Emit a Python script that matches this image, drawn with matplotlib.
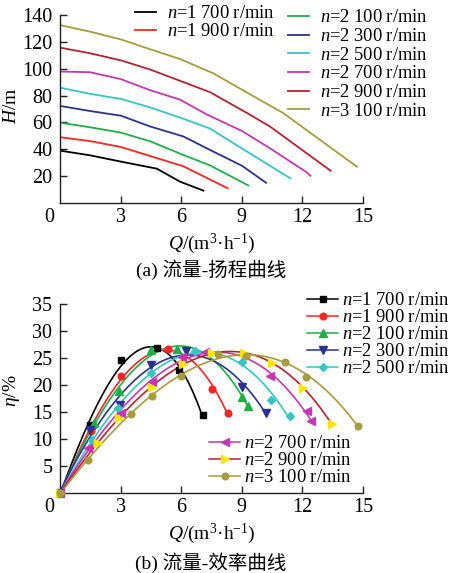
import numpy as np
import matplotlib
matplotlib.use('Agg')
import matplotlib.pyplot as plt

plt.rcParams['font.family'] = ['Liberation Serif', 'Noto Sans CJK SC']
plt.rcParams['mathtext.fontset'] = 'custom'
plt.rcParams['mathtext.rm'] = 'Liberation Serif'
plt.rcParams['mathtext.it'] = 'Liberation Serif:italic'
plt.rcParams['font.size'] = 13

# ---------------- data ----------------
speeds = ['1 700', '1 900', '2 100', '2 300', '2 500', '2 700', '2 900', '3 100']

# head curves (flow Q in m3/h, head H in m)
q_h_1700 = [0, 1.49, 3.02, 4.79, 5.94, 7.10]
h_1700 = [39.0, 35.5, 30.8, 25.6, 15.9, 9.2]
q_h_1900 = [0, 1.49, 3.02, 4.46, 6.10, 8.30]
h_1900 = [49.0, 46.1, 41.7, 35.0, 27.4, 11.0]
q_h_2100 = [0, 1.49, 3.02, 4.46, 6.10, 7.43, 9.32]
h_2100 = [59.8, 56.4, 52.4, 46.0, 35.8, 28.0, 13.1]
q_h_2300 = [0, 1.49, 3.02, 4.46, 6.10, 7.43, 9.00, 10.20]
h_2300 = [72.3, 68.5, 65.0, 57.0, 49.6, 39.5, 27.8, 15.1]
q_h_2500 = [0, 1.49, 3.02, 4.46, 6.10, 7.43, 9.00, 11.40]
h_2500 = [85.9, 81.3, 77.5, 71.2, 62.8, 55.4, 40.7, 18.4]
q_h_2700 = [0, 1.49, 3.02, 4.46, 5.94, 7.26, 9.00, 10.40, 12.20, 12.40]
h_2700 = [97.9, 97.4, 92.2, 84.0, 77.0, 66.0, 53.7, 40.7, 23.0, 20.3]
q_h_2900 = [0, 1.49, 3.02, 4.46, 5.94, 7.43, 9.32, 10.40, 13.40]
h_2900 = [115.7, 111.5, 106.2, 99.4, 91.0, 82.5, 66.5, 56.9, 24.0]
q_h_3100 = [0, 1.49, 3.02, 4.46, 5.94, 7.60, 9.32, 11.05, 14.70]
h_3100 = [132.5, 127.6, 121.8, 114.5, 107.2, 96.5, 81.7, 67.0, 27.0]

# efficiency points (flow Q in m3/h, efficiency in %)
q_e_1700 = [0, 1.49, 3.02, 4.82, 5.91, 7.06]
e_1700 = [0, 12.6, 24.6, 26.8, 22.8, 14.4]
q_e_1900 = [0, 1.53, 3.02, 5.33, 7.52, 8.33]
e_1900 = [0, 11.4, 21.6, 26.7, 19.3, 14.8]
q_e_2100 = [0, 1.70, 2.92, 4.50, 5.78, 9.02, 9.32]
e_2100 = [0, 12.9, 18.9, 26.5, 26.7, 17.7, 16.1]
q_e_2300 = [0, 1.49, 2.97, 4.50, 6.24, 9.00, 10.22]
e_2300 = [0, 11.7, 16.3, 23.7, 26.3, 19.7, 14.9]
q_e_2500 = [0, 1.60, 2.89, 4.50, 6.70, 9.02, 10.46, 11.39]
e_2500 = [0, 9.9, 15.8, 22.2, 26.3, 24.2, 17.2, 14.3]
q_e_2700 = [0, 1.40, 3.02, 4.54, 6.02, 7.18, 10.38, 12.22, 12.42]
e_2700 = [0, 8.3, 14.9, 20.6, 25.1, 26.2, 21.7, 15.1, 13.3]
q_e_2900 = [0, 1.87, 2.92, 4.54, 6.10, 7.51, 9.10, 10.50, 12.05, 13.45]
e_2900 = [0, 9.2, 13.9, 19.7, 23.8, 26.0, 25.9, 24.0, 19.5, 12.8]
q_e_3100 = [0, 1.40, 3.51, 4.54, 5.99, 7.84, 9.22, 11.14, 12.20, 14.75]
e_3100 = [0, 6.2, 14.6, 18.0, 21.7, 25.7, 25.4, 24.3, 21.4, 12.5]

head_q = [q_h_1700, q_h_1900, q_h_2100, q_h_2300, q_h_2500, q_h_2700, q_h_2900, q_h_3100]
head_h = [h_1700, h_1900, h_2100, h_2300, h_2500, h_2700, h_2900, h_3100]
eff_q = [q_e_1700, q_e_1900, q_e_2100, q_e_2300, q_e_2500, q_e_2700, q_e_2900, q_e_3100]
eff_e = [e_1700, e_1900, e_2100, e_2300, e_2500, e_2700, e_2900, e_3100]

# ---------------- style ----------------
line_colors = ['#000000', '#ff2424', '#1fae48', '#2c3192', '#38c4c4', '#c437b1', '#b4232f', '#a69c3d']
marker_colors = ['#000000', '#ff2424', '#1fae48', '#2c3192', '#38c4c4', '#c437b1', '#ffe600', '#a69c3d']
markers = ['s', 'o', '^', 'v', 'D', '<', '>', 'o']
msizes = [4.3, 4.8, 5.2, 5.2, 4.0, 5.2, 5.2, 4.8]

W, H = 454, 573
fig = plt.figure(figsize=(W / 100, H / 100), dpi=100)

TICK_FS = 14.5
LABEL_FS = 14
LEG_FS = 13.3


def px_rect(l, t, r, b):
    return [l / W, 1 - b / H, (r - l) / W, (b - t) / H]


def style_axes(ax, ymax, ystep, xlab_y):
    ax.spines['top'].set_visible(False)
    ax.spines['right'].set_visible(False)
    for s in ('left', 'bottom'):
        ax.spines[s].set_linewidth(1.0)
        ax.spines[s].set_color('#222222')
    ax.set_xlim(0, 15)
    ax.set_ylim(0, ymax)
    ax.set_xticks([3, 6, 9, 12, 15])
    ax.set_yticks(np.arange(ystep, ymax + 0.01, ystep))
    ax.tick_params(axis='both', direction='in', length=5, width=1.0, color='#222222',
                   labelsize=TICK_FS)
    ax.tick_params(axis='x', pad=3.5)
    ax.tick_params(axis='y', pad=5.5)
    ax.annotate('0', xy=(0, 0), xycoords='data', xytext=(-4, -3.5), textcoords='offset points',
                ha='right', va='top', fontsize=TICK_FS)
    ax.set_xlabel(r'$Q$/(m$^{3}$·h$^{-1}$)', fontsize=LABEL_FS)
    ax.xaxis.set_label_coords(0.5, xlab_y)


# ---------------- (a) head ----------------
ax1 = fig.add_axes(px_rect(60, 15, 363, 203))
style_axes(ax1, 140, 20, (203 - 232) / 188)
lines_a = []
for i in range(8):
    ln, = ax1.plot(head_q[i], head_h[i], color=line_colors[i], lw=1.3,
                   label='$n$=' + speeds[i] + ' r/min')
    lines_a.append(ln)
ax1.set_ylabel('$H$/m', fontsize=LABEL_FS)
ax1.yaxis.set_label_coords(-0.132, 0.52)

leg1 = ax1.legend(handles=lines_a[:2], loc='upper left', bbox_to_anchor=(135 / W, 1 - 5 / H),
                  bbox_transform=fig.transFigure, frameon=False, borderpad=0, borderaxespad=0,
                  handlelength=1.15, handletextpad=0.6, labelspacing=0.08, fontsize=LEG_FS)
ax1.add_artist(leg1)
ax1.legend(handles=lines_a[2:], loc='upper left', bbox_to_anchor=(288 / W, 1 - 9.5 / H),
           bbox_transform=fig.transFigure, frameon=False, borderpad=0, borderaxespad=0,
           handlelength=1.15, handletextpad=0.6, labelspacing=0.09, fontsize=LEG_FS)
fig.text(211 / W, 1 - 270 / H, '(a) 流量-扬程曲线', ha='center', va='center', fontsize=LABEL_FS)

# ---------------- (b) efficiency ----------------
ax2 = fig.add_axes(px_rect(60, 304, 363, 493))
style_axes(ax2, 35, 5, (493 - 522) / 189)
handles_b = []
for i in range(8):
    q = np.asarray(eff_q[i], dtype=float)
    e = np.asarray(eff_e[i], dtype=float)
    coef = np.polyfit(q, e, 3)
    qq = np.linspace(0, q.max(), 200)
    ax2.plot(qq, np.polyval(coef, qq), color=line_colors[i], lw=1.2)
    ax2.plot(q, e, linestyle='none', marker=markers[i], ms=msizes[i],
             mfc=marker_colors[i], mec=marker_colors[i], clip_on=False, zorder=3)
    h, = ax2.plot([], [], color=line_colors[i], lw=1.1, marker=markers[i], ms=msizes[i],
                  mfc=marker_colors[i], mec=marker_colors[i], label='$n$=' + speeds[i] + ' r/min')
    handles_b.append(h)
ax2.set_ylabel('$η$/%', fontsize=LABEL_FS)
ax2.yaxis.set_label_coords(-0.125, 0.54)

leg3 = ax2.legend(handles=handles_b[:5], loc='upper left', bbox_to_anchor=(307 / W, 1 - 292 / H),
                  bbox_transform=fig.transFigure, frameon=False, borderpad=0, borderaxespad=0,
                  handlelength=1.7, handletextpad=0.2, labelspacing=0.0, fontsize=LEG_FS)
ax2.add_artist(leg3)
ax2.legend(handles=handles_b[5:], loc='upper left', bbox_to_anchor=(209 / W, 1 - 435 / H),
           bbox_transform=fig.transFigure, frameon=False, borderpad=0, borderaxespad=0,
           handlelength=1.7, handletextpad=0.2, labelspacing=0.0, fontsize=LEG_FS)
fig.text(211 / W, 1 - 563 / H, '(b) 流量-效率曲线', ha='center', va='center', fontsize=LABEL_FS)

fig.savefig('out.png', dpi=100)
